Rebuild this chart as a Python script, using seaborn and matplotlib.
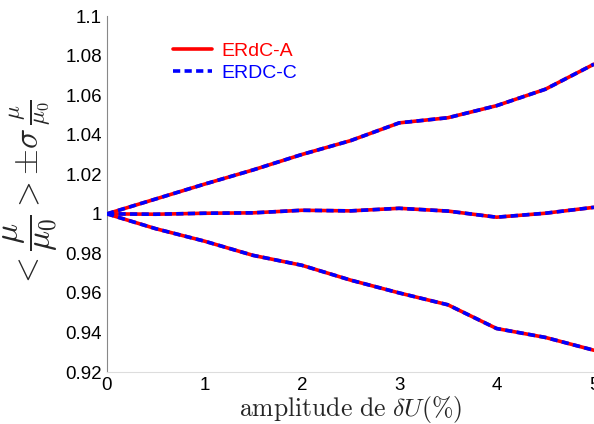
import numpy as np
import pandas as pd
import matplotlib.pyplot as plt
import seaborn as sns

# amplitude de dU (%)
amplitude = [0, 0.5, 1, 1.5, 2, 2.5, 3, 3.5, 4, 4.5, 5]
# moyenne + sigma, moyenne, moyenne - sigma
upper = [1.0, 1.0075, 1.015, 1.0222, 1.030, 1.037, 1.046, 1.0486, 1.0547, 1.063, 1.0757]
middle = [1.0, 0.9998, 1.0003, 1.0005, 1.0018, 1.0015, 1.0028, 1.0014, 0.9983, 1.0003, 1.0033]
lower = [1.0, 0.9925, 0.9862, 0.979, 0.974, 0.9665, 0.960, 0.954, 0.942, 0.9375, 0.931]

sns.set_style("white")
plt.rcParams['font.family'] = ['Liberation Sans', 'DejaVu Sans']
plt.rcParams['mathtext.fontset'] = 'cm'

fig = plt.figure(figsize=(5.94, 4.24), dpi=100)
ax = fig.add_axes([0.18, 0.1226, 0.82, 0.8394])

for serie in [upper, middle, lower]:
    df = pd.DataFrame({"x": amplitude, "y": serie})
    sns.lineplot(data=df, x="x", y="y", ax=ax, color="red", lw=2.6, zorder=2)
    sns.lineplot(data=df, x="x", y="y", ax=ax, color="blue", lw=2.6, ls=(0, (2, 1.2)), zorder=3)

ax.set_xlim(0, 5)
ax.set_ylim(0.92, 1.1)
ax.set_xticks(range(0, 6))
ax.set_yticks(np.arange(0.92, 1.1001, 0.02))
ax.set_yticklabels(["%g" % round(v, 2) for v in np.arange(0.92, 1.1001, 0.02)])
ax.tick_params(direction="in", length=3, labelsize=13.5, colors="#333333", labelcolor="black")
ax.spines["top"].set_visible(False)
ax.spines["right"].set_visible(False)
ax.spines["left"].set_color("#888888")
ax.spines["bottom"].set_color("#dddddd")
ax.spines["left"].set_linewidth(0.8)
ax.spines["bottom"].set_linewidth(0.8)

ax.set_xlabel(r"$\mathrm{amplitude\ de\ }\delta U(\%)$", fontsize=18.5, labelpad=0)
ax.set_ylabel(r"$<\dfrac{\mu}{\mu_0}>\pm\sigma\,\frac{\mu}{\mu_0}$", fontsize=24, labelpad=4)

# legende
h1, = ax.plot([], [], color="red", lw=2.6)
h2, = ax.plot([], [], color="blue", lw=2.6, ls=(0, (2, 1.2)))
leg = ax.legend([h1, h2], ["ERdC-A", "ERDC-C"], loc="upper left", bbox_to_anchor=(0.1, 0.975),
                frameon=False, fontsize=14, handlelength=2.0, handletextpad=0.5, labelspacing=0.2)
for t, c in zip(leg.get_texts(), ["red", "blue"]):
    t.set_color(c)

plt.savefig("out.png", dpi=100)
